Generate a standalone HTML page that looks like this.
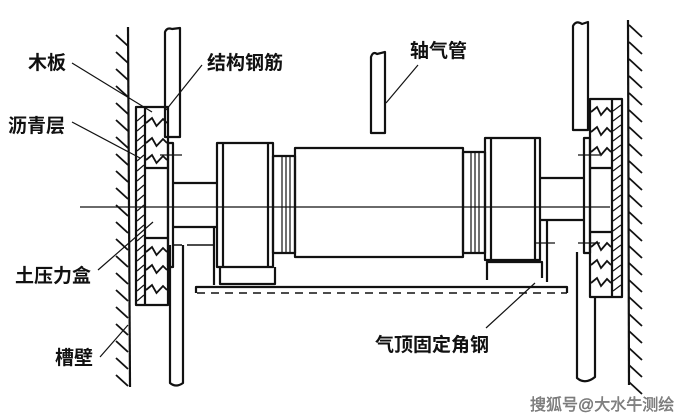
<!DOCTYPE html>
<html><head><meta charset="utf-8">
<style>
html,body{margin:0;padding:0;background:#fff;}
svg{display:block;}
text{font-family:"Liberation Sans","Noto Sans CJK SC",sans-serif;font-weight:bold;font-size:19px;fill:#111;}
</style></head>
<body>
<svg id="s" width="684" height="420" viewBox="0 0 684 420" xmlns="http://www.w3.org/2000/svg">
<g fill="none" stroke="#111" stroke-width="2.2" stroke-linejoin="round">
<line x1="128" y1="27" x2="130" y2="387"/>
<line x1="628" y1="20" x2="629" y2="385"/>
<path d="M165,137 V32 Q167,27 172,29 L180,28 V137 Z"/>
<path d="M170,245 V383 Q176,388 183,383 V245"/>
<rect x="136" y="107" width="32" height="198"/>
<line x1="145" y1="107" x2="145" y2="305"/>
<line x1="145" y1="168" x2="167" y2="168"/>
<line x1="145" y1="238" x2="167" y2="238"/>
<rect x="168" y="143" width="5" height="124"/>
<path d="M173,183 H217 M173,227 H217"/>
<path d="M173,245 H182 M187,245 H215" stroke-width="1.5"/>
<line x1="214" y1="227" x2="214" y2="285"/>
<rect x="217" y="143" width="56" height="124"/>
<line x1="223" y1="143" x2="223" y2="267"/>
<line x1="268" y1="143" x2="268" y2="267"/>
<rect x="273" y="156" width="22" height="97"/>
<line x1="282" y1="156" x2="282" y2="253" stroke-width="1.2"/>
<line x1="286" y1="156" x2="286" y2="253" stroke-width="1.2"/>
<line x1="290" y1="156" x2="290" y2="253" stroke-width="1.2"/>
<path d="M220,267 V284 H275 V267"/>
<rect x="295" y="148" width="168" height="109"/>
<rect x="463" y="152" width="22" height="101"/>
<line x1="471" y1="152" x2="471" y2="253" stroke-width="1.2"/>
<line x1="475" y1="152" x2="475" y2="253" stroke-width="1.2"/>
<line x1="479" y1="152" x2="479" y2="253" stroke-width="1.2"/>
<rect x="485" y="138" width="55" height="122"/>
<line x1="491" y1="138" x2="491" y2="260"/>
<line x1="535" y1="138" x2="535" y2="260"/>
<path d="M487,280 V262 H542 V278"/>
<line x1="547" y1="220" x2="547" y2="282"/>
<path d="M540,178 H584 M540,220 H584"/>
<rect x="584" y="138" width="6" height="115"/>
<rect x="590" y="99" width="32" height="198"/>
<line x1="612" y1="99" x2="612" y2="297"/>
<line x1="590" y1="168" x2="612" y2="168"/>
<line x1="590" y1="232" x2="612" y2="232"/>
<path d="M573,130 V26 Q576,20 582,24 L588,22 V130 Z"/>
<path d="M577,252 V378 Q585,385 595,377 V297"/>
<path d="M371,133 V57 Q373,51 377,54 L385,52 V133 Z"/>
<path d="M196,293 V287 H567 V293"/>
<path d="M197,293 H567" stroke-width="1.5" stroke-dasharray="8,6"/>
</g>
<g stroke="#111" stroke-width="1.2" fill="none">
<line x1="80" y1="207" x2="610" y2="207"/>
<line x1="160" y1="155" x2="182" y2="155"/>
<line x1="578" y1="155" x2="600" y2="155"/>
<line x1="578" y1="243" x2="600" y2="243"/>
<line x1="535" y1="243" x2="555" y2="243"/>
<line x1="72" y1="63" x2="152" y2="112"/>
<line x1="202" y1="65" x2="166" y2="110"/>
<line x1="72" y1="122" x2="140" y2="158"/>
<line x1="98" y1="270" x2="153" y2="222"/>
<line x1="100" y1="357" x2="128" y2="325"/>
<line x1="418" y1="65" x2="386" y2="103"/>
<line x1="486" y1="328" x2="535" y2="283"/>
</g>
<g id="dyn" stroke="#111" stroke-width="1.8" fill="none"></g>
<text x="28" y="69">木板</text>
<text x="8" y="132">沥青层</text>
<text x="15" y="282">土压力盒</text>
<text x="55" y="364">槽壁</text>
<text x="207" y="69">结构钢筋</text>
<text x="410" y="57">轴气管</text>
<text x="375" y="351">气顶固定角钢</text>
<text x="530" y="410" style="font-size:16px;fill:#888;font-weight:normal;stroke:#666;stroke-width:0.4">搜狐号@大水牛测绘</text>
</svg>
<script>
var g=document.getElementById('dyn'),h='';
for(var y=35;y<385;y+=17){h+='<line x1="116" y1="'+y+'" x2="128" y2="'+(y+11)+'"/>';}
for(var y=25;y<385;y+=17){h+='<line x1="629" y1="'+y+'" x2="642" y2="'+(y+12)+'"/>';}
for(var y=115;y<300;y+=10){h+='<line x1="137" y1="'+(y+6)+'" x2="144" y2="'+y+'" stroke-width="1.2"/>';}
for(var y=105;y<295;y+=10){h+='<line x1="613" y1="'+(y+6)+'" x2="621" y2="'+y+'" stroke-width="1.2"/>';}
function zz(x1,x2,ys){ys.forEach(function(y){var m=(x1+x2)/2;h+='<polyline points="'+x1+','+y+' '+(x1+6)+','+(y-5)+' '+m+','+(y+3)+' '+(x2-4)+','+(y-4)+' '+x2+','+y+'"/>';});}
zz(146,167,[123,143,160]);zz(146,167,[252,270,290]);
zz(591,611,[112,132,152]);zz(591,611,[247,265,283]);
g.innerHTML=h;
</script>
</body></html>
